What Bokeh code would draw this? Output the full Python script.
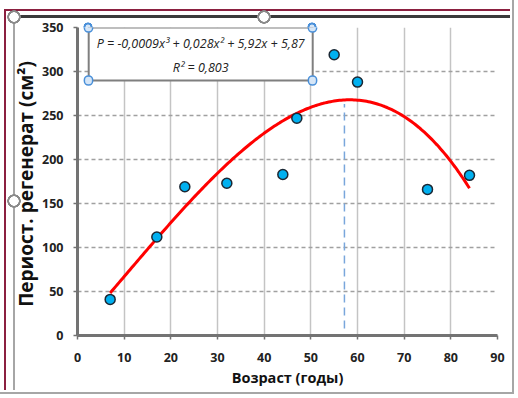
import numpy as np
from bokeh.plotting import figure
from bokeh.models import Range1d, BoxAnnotation, Label, FixedTicker
from bokeh.embed import file_html
from bokeh.resources import INLINE

# ---- data ----
age = [7, 17, 23, 32, 44, 47, 55, 60, 75, 84]
perio = [41, 112, 169, 173, 183, 247, 319, 288, 166, 182]
trend_coef = [-0.0009, 0.028, 5.92, 5.87]   # cubic trendline shown on chart
r2 = 0.803
peak_age = 57.2
peak_line = [8, 263]
x_ticks = [0, 10, 20, 30, 40, 50, 60, 70, 80, 90]
y_ticks = [0, 50, 100, 150, 200, 250, 300, 350]
x_title = "Возраст (годы)"
y_title = "Периост. регенерат  (см²)"
eq_text = "P = -0,0009x³ + 0,028x² + 5,92x + 5,87"
r2_text = "R² = 0,803"

W, H = 510, 390
FL, FT, FW, FH = 77, 27, 420, 308          # plot frame in canvas px
FB = FT + FH

# decorative chart-area frame (Excel selection outline) as CSS background
def circ(x, y, fill, ring, r=6.5):
    return (f"radial-gradient(circle {r + 0.8}px at {x}px {y}px, {fill} 0 {r - 2}px, "
            f"{ring} {r - 1.6}px {r}px, rgba(0,0,0,0) {r + 0.5}px)")

def bar(x, y, w, h, col):
    return f"linear-gradient({col},{col}) {x}px {y}px / {w}px {h}px no-repeat"

layers = [
    circ(14, 17, "#ffffff", "#8a8a8a"),
    circ(264, 17, "#ffffff", "#8a8a8a"),
    circ(14, 201, "#ffffff", "#8a8a8a"),
    circ(88, 27, "#d6e6f7", "#4a90d9", 4.3),
    circ(312, 27, "#d6e6f7", "#4a90d9", 4.3),
    bar(5, 9, 505, 2, "#8b2040"),
    bar(4, 9, 2, 381, "#8b2040"),
    bar(14, 15, 496, 3, "#3a3a3a"),
    bar(13, 17, 2, 373, "#a6a6a6"),
]

p = figure(width=W, height=H, output_backend="svg", toolbar_location=None,
           x_range=Range1d(0, 90), y_range=Range1d(0, 350),
           min_border_left=FL, min_border_right=W - FL - FW,
           min_border_top=FT, min_border_bottom=H - FB)
p.styles = {"background": ", ".join(layers) + ", #ffffff",
            "outline": "2px solid #a6a6a6", "outline-offset": "2px"}
p.outline_line_color = None
p.background_fill_color = "white"
p.border_fill_color = None
p.border_fill_alpha = 0

# grids
p.xgrid.ticker = FixedTicker(ticks=x_ticks)
p.ygrid.ticker = FixedTicker(ticks=y_ticks)
p.xgrid.grid_line_color = "#c4c4c4"
p.xgrid.grid_line_width = 1.5
p.ygrid.grid_line_color = "#a0a0a0"
p.ygrid.grid_line_width = 1.5
p.ygrid.grid_line_dash = "4 3"

# axes
for ax, ticks in ((p.xaxis, x_ticks), (p.yaxis, y_ticks)):
    ax.ticker = FixedTicker(ticks=ticks)
    ax.axis_line_color = "#737373"
    ax.axis_line_width = 3
    ax.major_tick_line_color = "#737373"
    ax.major_tick_line_width = 1.5
    ax.major_tick_in = 0
    ax.major_tick_out = 4
    ax.minor_tick_line_color = None
    ax.major_label_text_font = "Open Sans"
    ax.major_label_text_font_style = "bold"
    ax.major_label_text_font_size = "12.5px"
    ax.major_label_text_color = "#222222"
    ax.axis_label_text_font = "Open Sans"
    ax.axis_label_text_font_style = "bold"
    ax.axis_label_text_color = "#111111"

p.xaxis.axis_label = x_title
p.yaxis.axis_label = y_title
p.xaxis.axis_label_text_font_size = "14.5px"
p.yaxis.axis_label_text_font_size = "19px"
p.xaxis.major_label_standoff = 13
p.yaxis.major_label_standoff = 10
p.xaxis.axis_label_standoff = 3
p.yaxis.axis_label_standoff = 0

# trendline from the displayed coefficients
xs = np.linspace(min(age), max(age), 200)
ys = np.polyval(trend_coef, xs)
p.line(xs, ys, line_color="#ff0000", line_width=3)

# vertical dashed line at the peak
p.segment(x0=[peak_age], y0=[peak_line[0]], x1=[peak_age], y1=[peak_line[1]],
          line_color="#79a6db", line_width=1.5, line_dash="8 5")

# points
p.scatter(age, perio, size=10, fill_color="#00b0f0", line_color="#1b2733",
          line_width=1.5)

# equation box
p.add_layout(BoxAnnotation(left=2.4, right=50.4, top=350, bottom=289.8,
                           fill_color="white", fill_alpha=1.0,
                           line_color="#7f7f7f", line_width=2, line_alpha=1.0))
p.add_layout(Label(x=26.4, y=331.5, text=eq_text, text_align="center",
                   text_baseline="middle", text_font="Open Sans",
                   text_font_style="italic", text_font_size="12.5px",
                   text_color="#222222"))
p.add_layout(Label(x=26.4, y=304.5, text=r2_text, text_align="center",
                   text_baseline="middle", text_font="Open Sans",
                   text_font_style="italic", text_font_size="12.5px",
                   text_color="#222222"))

# selection handles on the equation box corners (inside-frame parts)
for cx, cy in [(88, 27), (312, 27), (88, 80), (312, 80)]:
    p.add_layout(Label(x=cx - FL, y=FB - cy, x_units="screen", y_units="screen",
                       text=" ", text_font_size="1px", text_align="center",
                       text_baseline="middle", padding=4,
                       background_fill_color="#d6e6f7", background_fill_alpha=1.0,
                       border_line_color="#4a90d9", border_line_width=1.5,
                       border_radius=4))

open("out.html", "w").write(file_html(p, INLINE))
